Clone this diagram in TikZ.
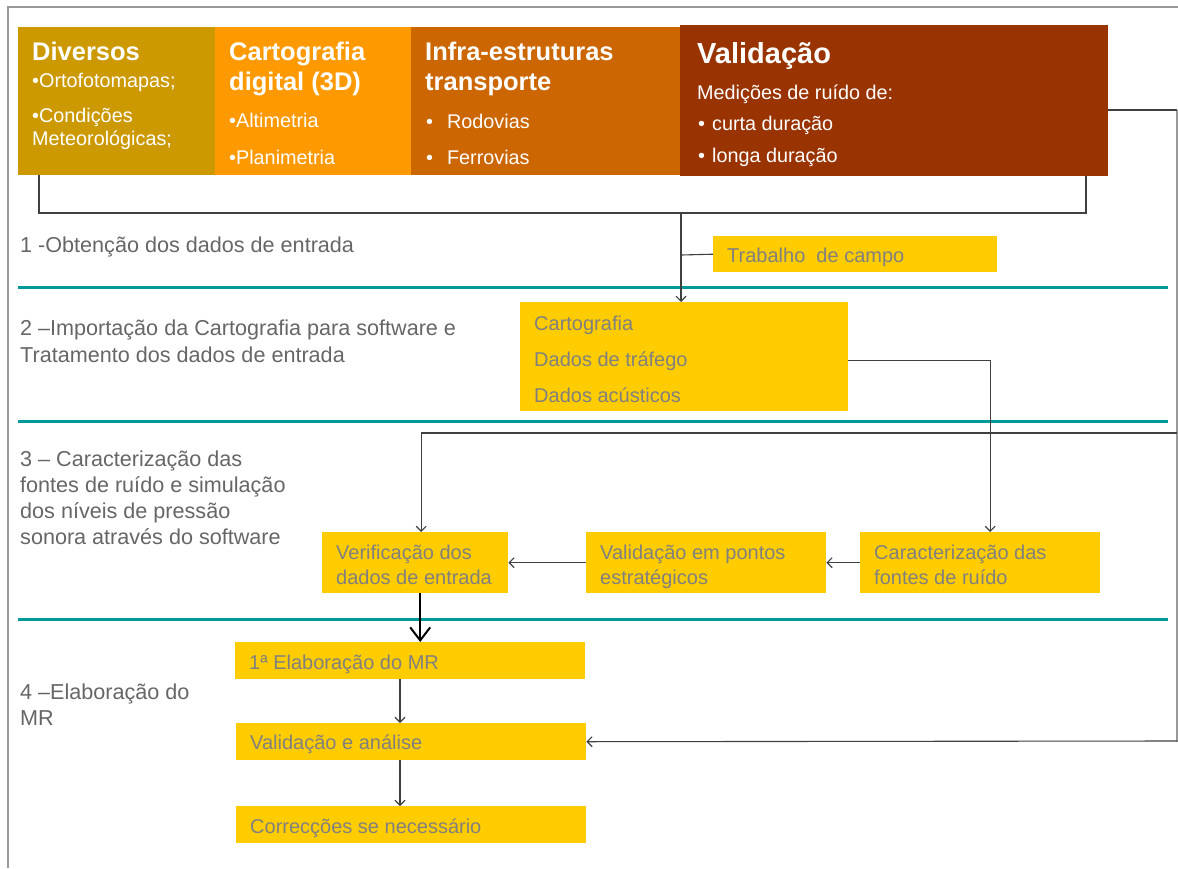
\documentclass[tikz,border=0pt]{standalone}
\usepackage{fontspec}
\setmainfont{Liberation Sans}
\usetikzlibrary{arrows.meta,calc}
\definecolor{cdiv}{HTML}{CC9900}
\definecolor{ccar}{HTML}{FF9900}
\definecolor{cinf}{HTML}{CC6600}
\definecolor{cval}{HTML}{993300}
\definecolor{cyel}{HTML}{FFCC00}
\definecolor{cteal}{HTML}{009999}
\definecolor{ctxt}{HTML}{808080}
\definecolor{clab}{HTML}{666666}
\definecolor{cline}{HTML}{404040}
\definecolor{cframe}{HTML}{999999}
\begin{document}
\begin{tikzpicture}[x=1pt,y=-1pt,
  topbox/.style={draw=none, inner sep=0, anchor=north west, minimum height=148},
  ttl/.style={anchor=base west, inner sep=0, text=white, font=\bfseries\fontsize{25.5}{25.5}\selectfont},
  sub/.style={anchor=base west, inner sep=0, text=white, font=\fontsize{19.8}{19.8}\selectfont},
  lab/.style={anchor=base west, inner sep=0, text=clab, font=\fontsize{21.6}{21.6}\selectfont},
  ybox/.style={fill=cyel, anchor=north west, inner sep=0},
  ytxt/.style={anchor=base west, inner sep=0, text=ctxt, font=\fontsize{20}{20}\selectfont},
  conn/.style={draw=cline, line width=1.1pt},
  arr/.style={conn, -{Straight Barb[length=5pt,width=10pt]}},
  bigarr/.style={draw=black, line width=2pt, -{Straight Barb[length=13pt,width=20pt]}},
  teal/.style={draw=cteal, line width=3pt},
  frame/.style={draw=cframe, line width=1.2pt}
]
\useasboundingbox (0,0) rectangle (1178,868);
% coordinates
\coordinate (jl) at (39,213);
\coordinate (jr) at (1086,213);
\coordinate (jm) at (681,213);
\coordinate (jt) at (681,255);
\coordinate (r1) at (1177,110);
\coordinate (r2) at (1177,433);
\coordinate (r3) at (1177,741);
\coordinate (fb) at (1177,742);
% frame
\draw[frame] (8,868) -- (8,7) -- (1178,7);
\draw[frame] (r1) -- (fb);
% teal separators
\draw[teal] (18,287) -- (1168,287);
\draw[teal] (18,421) -- (1168,421);
\draw[teal] (18,619) -- (1168,619);

% top boxes
\node[topbox, fill=cdiv, minimum width=197] (div) at (18,27) {};
\node[topbox, fill=ccar, minimum width=196] (car) at (215,27) {};
\node[topbox, fill=cinf, minimum width=269] (inf) at (411,27) {};
\node[topbox, fill=cval, minimum width=428, minimum height=151] (val) at (680,25) {};

% top texts
\node[ttl] (divt) at (32,60) {Diversos};
\node[sub] (divs1) at (32,87) {•Ortofotomapas;};
\node[sub] (divs2) at (32,122) {•Condições};
\node[sub] (divs3) at (32,145) {Meteorológicas;};

\node[ttl] (cart1) at (229,60) {Cartografia};
\node[ttl] (cart2) at (229,90) {digital (3D)};
\node[sub] (cars1) at (229,127) {•Altimetria};
\node[sub] (cars2) at (229,164) {•Planimetria};

\node[ttl] (inft1) at (425,60) {Infra-estruturas};
\node[ttl] (inft2) at (425,90) {transporte};
\node[sub] (infs1) at (426,128) {•\hspace{14pt}Rodovias};
\node[sub] (infs2) at (426,164) {•\hspace{14pt}Ferrovias};

\node[ttl, font=\bfseries\fontsize{29}{29}\selectfont] (valt) at (697,63) {Validação};
\node[sub] (vals0) at (697,99) {Medições de ruído de:};
\node[sub] (vals1) at (698,130) {•\hspace{7pt}curta duração};
\node[sub] (vals2) at (698,162) {•\hspace{7pt}longa duração};

% left labels
\node[lab] (l1) at (20,252) {1 -Obtenção dos dados de entrada};
\node[lab] (l2a) at (20,335) {2 –Importação da Cartografia para software e};
\node[lab] (l2b) at (20,362) {Tratamento dos dados de entrada};
\node[lab] (l3a) at (20,466) {3 – Caracterização das};
\node[lab] (l3b) at (20,492) {fontes de ruído e simulação};
\node[lab] (l3c) at (20,518) {dos níveis de pressão};
\node[lab] (l3d) at (20,544) {sonora através do software};
\node[lab] (l4a) at (20,699) {4 –Elaboração do};
\node[lab] (l4b) at (20,725) {MR};

% yellow boxes
\node[ybox, minimum width=284, minimum height=36] (trab) at (713,236) {};
\node[ybox, minimum width=328, minimum height=109] (carto) at (520,302) {};
\node[ybox, minimum width=186, minimum height=61] (verif) at (322,532) {};
\node[ybox, minimum width=240, minimum height=61] (vpont) at (586,532) {};
\node[ybox, minimum width=240, minimum height=61] (carac) at (860,532) {};
\node[ybox, minimum width=350, minimum height=37] (elab) at (235,642) {};
\node[ybox, minimum width=350, minimum height=37] (vanal) at (236,723) {};
\node[ybox, minimum width=350, minimum height=37] (corr) at (236,806) {};

% yellow box texts
\node[ytxt] (trabt) at (727,262) {Trabalho\ \ de campo};
\node[ytxt] (cartoa) at (534,330) {Cartografia};
\node[ytxt] (cartob) at (534,366) {Dados de tráfego};
\node[ytxt] (cartoc) at (534,402) {Dados acústicos};
\node[ytxt] (verifa) at (336,559) {Verificação dos};
\node[ytxt] (verifb) at (336,584) {dados de entrada};
\node[ytxt] (vponta) at (600,559) {Validação em pontos};
\node[ytxt] (vpontb) at (600,584) {estratégicos};
\node[ytxt] (caraca) at (874,559) {Caracterização das};
\node[ytxt] (caracb) at (874,584) {fontes de ruído};
\node[ytxt] (elabt) at (249,669) {1ª Elaboração do MR};
\node[ytxt] (vanalt) at (250,749) {Validação e análise};
\node[ytxt] (corrt) at (250,833) {Correcções se necessário};

\coordinate (vb) at ($(verif.south)+(5,0)$);
\coordinate (ax) at (400,0);
\coordinate (ce) at ($(carto.east)+(0,4)$);

% connectors
\draw[conn] (div.south -| jl) -- (jl) -- (jr) -- (val.south -| jr);
\draw[arr] (jm) -- (jm |- carto.north);
\draw[conn] (jt) -- (trab.west);
\draw[conn] (val.east |- r1) -- (r1);
\draw[arr] (ce) -| ($(carac.north)+(10,0)$);
\draw[arr] (r2) -| ($(verif.north)+(6,0)$);
\draw[arr] (carac.west) -- (vpont.east);
\draw[arr] (vpont.west) -- (verif.east);
\draw[bigarr] (vb) -- (vb |- elab.north);
\draw[arr] (elab.south -| ax) -- (vanal.north -| ax);
\draw[arr] (vanal.south -| ax) -- (corr.north -| ax);
\draw[arr] (r3) -- (vanal.east);
\end{tikzpicture}
\end{document}
